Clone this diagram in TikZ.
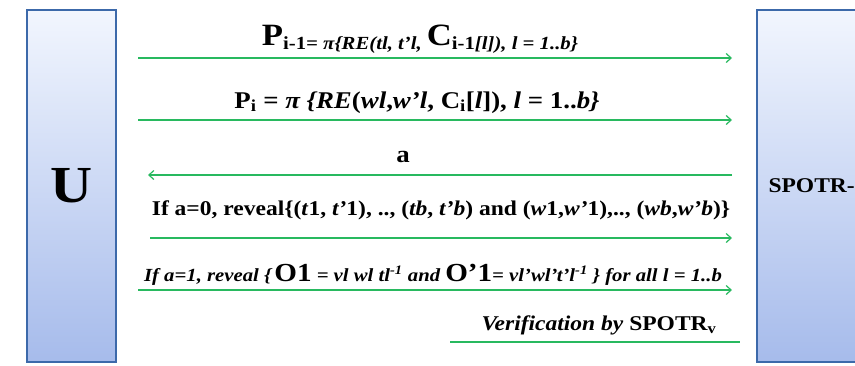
\documentclass[tikz,border=0pt]{standalone}
\usepackage{fontspec}
\setmainfont{Liberation Serif}[FakeStretch=1.12]
\usetikzlibrary{arrows.meta, positioning}

\definecolor{msggreen}{RGB}{40,185,95}
\definecolor{boxblue}{RGB}{60,105,170}
\definecolor{shadetop}{RGB}{242,246,254}
\definecolor{shadebot}{RGB}{166,187,235}

% big letters and lowered small text in the message labels
\newcommand\bigsym[1]{{\fontsize{31}{31}\selectfont #1}}
\newcommand\lowtxt[1]{\raisebox{-4pt}{\fontsize{18.5}{18.5}\selectfont #1}}

\begin{document}
\begin{tikzpicture}[
  x=1pt, y=-1pt,
  party/.style={draw=boxblue, line width=1.5pt,
                top color=shadetop, bottom color=shadebot,
                minimum width=89pt, minimum height=352pt, inner sep=0pt},
  msg/.style={draw=msggreen, line width=1.2pt,
              -{Straight Barb[length=5pt, width=9pt]}},
  lbl/.style={inner sep=0pt, anchor=base, font=\bfseries}
]
  \useasboundingbox (0,0) rectangle (855,365);

  \node[party] (U) at (71.5,186) {};
  \node[font=\fontsize{52}{52}\selectfont\bfseries] (ulbl) at (U.center) {U};

  \node[party, minimum width=200pt, anchor=west] (S) at (756,186) {};
  \node[font=\fontsize{21}{21}\selectfont\bfseries, anchor=west] (slbl)
    at (765,186) {SPOTR-};

  % message rails
  \coordinate (l1) at (138,58);  \coordinate (r1) at (732,58);
  \coordinate (l2) at (138,120); \coordinate (r2) at (732,120);
  \coordinate (l3) at (148,175); \coordinate (r3) at (732,175);
  \coordinate (l4) at (150,238); \coordinate (r4) at (732,238);
  \coordinate (l5) at (138,290); \coordinate (r5) at (732,290);
  \coordinate (l6) at (450,342); \coordinate (r6) at (740,342);

  \node[lbl] (t1) at (420,45)
    {\bigsym{P}\lowtxt{i-1\textit{= π\{RE(tl, t'l,}~}\bigsym{C}\lowtxt{i-1\textit{[l]), l = 1..b\}}}};
  \draw[msg] (l1) -- (r1);

  \node[lbl, font=\fontsize{24}{24}\selectfont\bfseries] (t2) at (417,108)
    {P\textsubscript{i} = \textit{π \{RE}(\textit{wl},\textit{w'l}, C\textsubscript{i}[\textit{l}]), \textit{l} = 1..\textit{b\}}};
  \draw[msg] (l2) -- (r2);

  \node[lbl, font=\fontsize{24}{24}\selectfont\bfseries] (t3) at (403,162) {a};
  \draw[msg] (r3) -- (l3);

  \node[lbl, font=\fontsize{21}{21}\selectfont\bfseries] (t4) at (441,215)
    {If a=0, reveal\{(\textit{t}1, \textit{t'}1), .., (\textit{tb}, \textit{t'b}) and (\textit{w}1,\textit{w'}1),.., (\textit{wb},\textit{w'b})\}};
  \draw[msg] (l4) -- (r4);

  \node[lbl, font=\fontsize{18.5}{18.5}\selectfont\bfseries\itshape] (t5) at (433,281)
    {If a=1, reveal \{\,{\upshape\fontsize{26}{26}\selectfont O1}~= vl wl tl\textsuperscript{-1} and~{\upshape\fontsize{26}{26}\selectfont O'1}= vl'wl't'l\textsuperscript{-1}~\} for all l = 1..b};
  \draw[msg] (l5) -- (r5);

  \node[lbl, font=\fontsize{21}{21}\selectfont\bfseries] (t6) at (599,330)
    {\textit{Verification by} SPOTR\textsubscript{v}};
  \draw[draw=msggreen, line width=1.2pt] (l6) -- (r6);
\end{tikzpicture}
\end{document}
